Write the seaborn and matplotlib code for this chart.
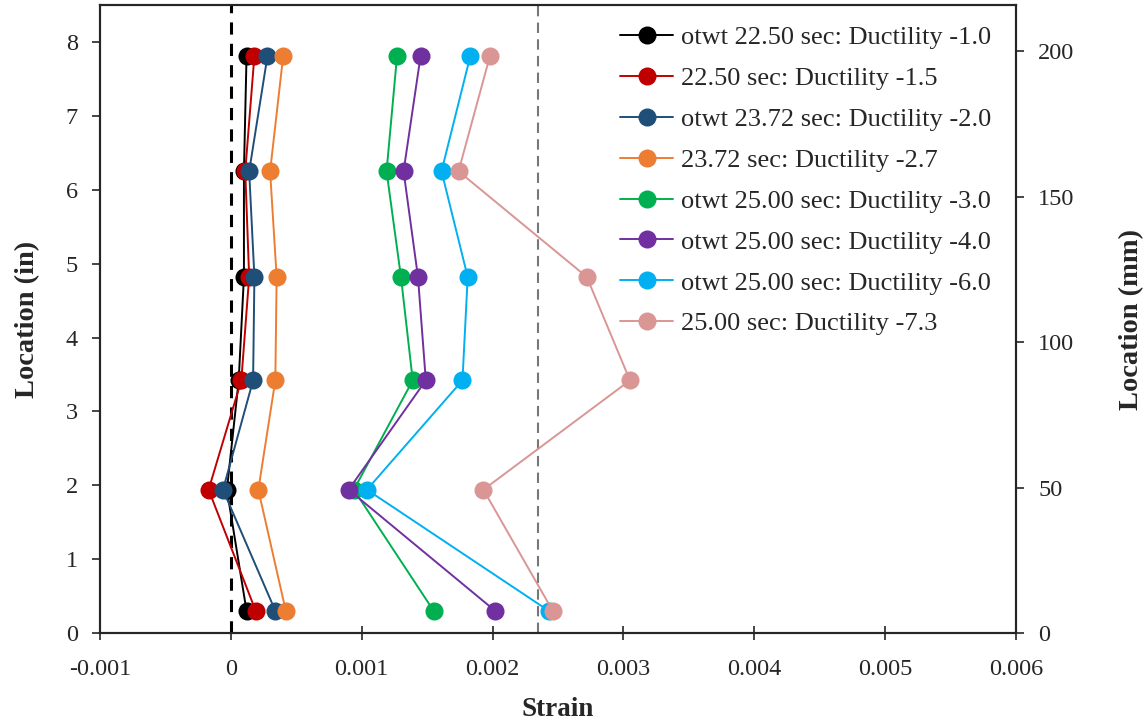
import pandas as pd
import seaborn as sns
import matplotlib.pyplot as plt

# gauge locations (in) and strains
loc_in = [7.81, 6.25, 4.82, 3.42, 1.94, 0.30]

labels = ['otwt 22.50 sec: Ductility -1.0', '22.50 sec: Ductility -1.5',
          'otwt 23.72 sec: Ductility -2.0', '23.72 sec: Ductility -2.7',
          'otwt 25.00 sec: Ductility -3.0', 'otwt 25.00 sec: Ductility -4.0',
          'otwt 25.00 sec: Ductility -6.0', '25.00 sec: Ductility -7.3']

duct_10 = [0.00012, 0.00010, 0.00010, 0.00006, -0.00003, 0.00012]
duct_15 = [0.00018, 0.00011, 0.00014, 0.00008, -0.00017, 0.00019]
duct_20 = [0.00028, 0.00014, 0.00018, 0.00017, -0.00006, 0.00034]
duct_27 = [0.00040, 0.00030, 0.00035, 0.00034, 0.00021, 0.00042]
duct_30 = [0.00127, 0.00119, 0.00130, 0.00139, 0.00094, 0.00155]
duct_40 = [0.00145, 0.00132, 0.00143, 0.00149, 0.00090, 0.00202]
duct_60 = [0.00183, 0.00161, 0.00181, 0.00177, 0.00104, 0.00243]
duct_73 = [0.00198, 0.00174, 0.00272, 0.00305, 0.00193, 0.00246]

yield_strain = 0.00235

colors = ['#000000', '#c00000', '#1f4e79', '#ed7d31',
          '#00b050', '#7030a0', '#00b0f0', '#d99694']

series = [duct_10, duct_15, duct_20, duct_27, duct_30, duct_40, duct_60, duct_73]
rows = []
for lab, vals in zip(labels, series):
    for s, y in zip(vals, loc_in):
        rows.append({'series': lab, 'strain': s, 'loc': y})
df = pd.DataFrame(rows)

sns.set_style('ticks')
plt.rcParams['font.family'] = ['Liberation Serif', 'DejaVu Serif']

fig = plt.figure(figsize=(11.44, 7.21), dpi=100)
ax = fig.add_axes([0.0874, 0.122, 0.8007, 0.871])

ax.axvline(0, color='black', ls='--', lw=2.2, dashes=(4, 3), zorder=1)
ax.axvline(yield_strain, color='#777777', ls='--', lw=1.5, dashes=(5, 3), zorder=1)

sns.lineplot(data=df, x='strain', y='loc', hue='series', hue_order=labels,
             palette=colors, sort=False, estimator=None, units='series',
             marker='o', markersize=13, markeredgewidth=0, linewidth=1.4, ax=ax)

ax.set_xlim(-0.001, 0.006)
ax.set_ylim(0, 8.5)
ax.set_xticks([-0.001, 0, 0.001, 0.002, 0.003, 0.004, 0.005, 0.006])
ax.set_xticklabels(['-0.001', '0', '0.001', '0.002', '0.003', '0.004', '0.005', '0.006'])
ax.set_yticks(range(0, 9))
ax.tick_params(axis='x', direction='inout', length=10, width=1.2, labelsize=17.5, pad=14)
ax.tick_params(axis='y', direction='out', length=6, width=1.2, labelsize=17.5, pad=10)
for sp in ax.spines.values():
    sp.set_linewidth(1.5)
    sp.set_color('black')
ax.set_xlabel('Strain', fontsize=19.5, fontweight='bold', labelpad=12)
ax.set_ylabel('Location (in)', fontsize=20.5, fontweight='bold', labelpad=18)

ax2 = ax.twinx()
ax2.set_ylim(0, 8.5 * 25.4)
ax2.set_yticks([0, 50, 100, 150, 200])
ax2.tick_params(axis='y', direction='out', length=6, width=1.2, labelsize=17.5, pad=10)
ax2.set_ylabel('Location (mm)', fontsize=20.5, fontweight='bold', labelpad=32)
for sp in ax2.spines.values():
    sp.set_linewidth(1.5)

leg = ax.legend(loc='upper left', bbox_to_anchor=(0.568, 0.967), frameon=False,
                fontsize=19, handlelength=2.0, handletextpad=0.3, labelspacing=0.66,
                borderaxespad=0, borderpad=0)

plt.savefig('out.png', dpi=100)
